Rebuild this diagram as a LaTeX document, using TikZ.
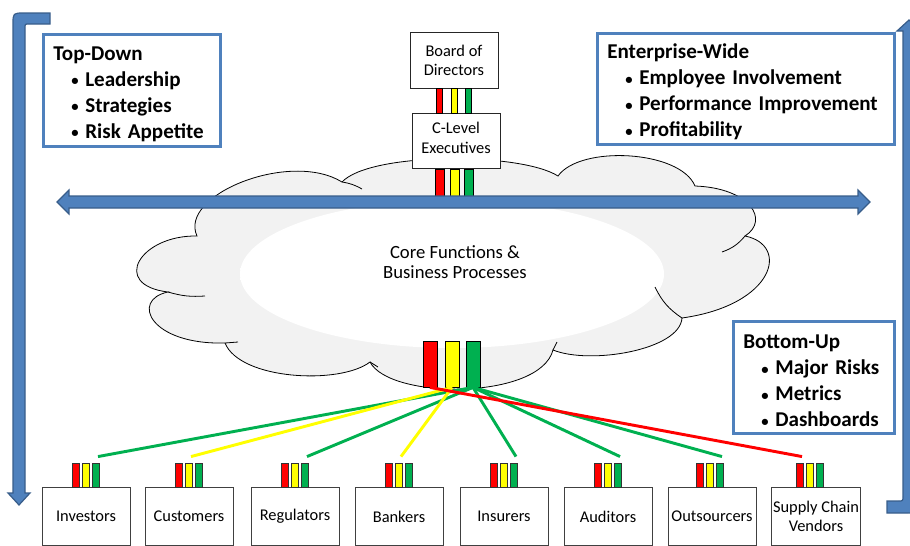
\documentclass[tikz,border=0pt]{standalone}
\usepackage{fontspec}
\setmainfont{Carlito}
\usetikzlibrary{calc}

\definecolor{boxblue}{HTML}{4F81BD}
\definecolor{arrowblue}{HTML}{4F81BD}
\definecolor{arrowedge}{HTML}{385D8A}
\definecolor{cloudgray}{HTML}{F2F2F2}
\definecolor{rred}{HTML}{FF0000}
\definecolor{ryel}{HTML}{FFFF00}
\definecolor{rgrn}{HTML}{00B050}

\pgfdeclareradialshading{cloudglow}{\pgfpointorigin}{color(0bp)=(white); color(38bp)=(white); color(50bp)=(cloudgray); color(100bp)=(cloudgray)}

\newcommand{\riskitem}[1]{\hspace*{13.5pt}\makebox[10.5pt][l]{\raisebox{0.6pt}{\fontsize{11}{11}\selectfont\textbullet}}#1}

\tikzset{
  infobox/.style={draw=boxblue, line width=2pt, fill=white, align=left, anchor=north west,
    inner xsep=7.5pt, inner ysep=0pt, font=\fontsize{15.8}{19.5}\selectfont\bfseries},
  stake/.style={draw=black!75, line width=0.6pt, fill=white, minimum width=66pt, minimum height=43.5pt,
    inner sep=1pt, align=center, font=\fontsize{12.3}{14.5}\selectfont},
  exec/.style={draw=black!85, line width=0.6pt, fill=white, minimum width=66pt, minimum height=41.5pt,
    inner sep=1pt, align=center, font=\fontsize{12.3}{14.5}\selectfont},
  tick/.style={draw=black!80, line width=0.4pt, minimum width=5pt, minimum height=18pt, inner sep=0pt, anchor=south},
  corebar/.style={draw=black, line width=0.6pt, minimum width=10.5pt, minimum height=34.5pt, inner sep=0pt},
  bigarrow/.style={fill=arrowblue, draw=arrowedge, line width=0.9pt, line join=miter},
  link/.style={line width=2.2pt},
  linkr/.style={link, draw=rred},
  linky/.style={link, draw=ryel},
  linkg/.style={link, draw=rgrn},
}

\begin{document}
\begin{tikzpicture}[x=0.75pt, y=-0.75pt]
\useasboundingbox (0,0) rectangle (910,546);

% cloud
\draw[fill=cloudgray, line width=0.6pt]
  (197,236) .. controls (178,195) and (290,150) .. (342,182)
  .. controls (370,152) and (520,152) .. (558,176)
  .. controls (580,145) and (680,150) .. (695,186)
  .. controls (750,188) and (770,220) .. (745,236)
  .. controls (790,245) and (775,305) .. (682,318)
  .. controls (680,350) and (590,365) .. (553,350)
  .. controls (540,400) and (390,400) .. (370,362)
  .. controls (340,385) and (240,380) .. (225,343)
  .. controls (150,345) and (130,300) .. (168,292)
  .. controls (110,285) and (140,235) .. cycle;
\shade[shading=cloudglow] (452,274) ellipse [x radius=212, y radius=74];
\draw[line width=0.6pt] (342,182) to[bend left=10] (362,189);
\draw[line width=0.6pt] (745,236) to[bend left=15] (722,252);
\draw[line width=0.6pt] (682,318) to[bend left=15] (655,287);
\draw[line width=0.6pt] (168,292) to[bend right=10] (205,296);
\draw[line width=0.6pt] (225,343) -- (238,342);
\draw[line width=0.6pt] (370,362) -- (378,367);
\draw[line width=0.6pt] (553,350) -- (557,342);
\node[align=center, font=\fontsize{14}{15.5}\selectfont] (core) at (455,262) {Core Functions \&\\Business Processes};

% board and executives
\node[exec] (board) at (454,60.5) {Board of\\Directors};
\node[exec] (cexec) at (456,141) {C-Level\\Executives\rule[-5pt]{0pt}{0pt}};
\foreach \c/\dx in {rred/-15, ryel/0, rgrn/14.5}{
  \draw[fill=\c, line width=0.5pt] ($(board.south)+(\dx-3,0)$) rectangle ($(cexec.north)+(\dx+1,0)$);
  \draw[fill=\c, line width=0.5pt] ($(cexec.south)+(\dx-6,0)$) rectangle ($(cexec.south)+(\dx+3,27)$);
}

% bars leaving the cloud
\node[corebar, fill=rred] (core-r) at (430,364) {};
\node[corebar, fill=ryel] (core-y) at (452,364) {};
\node[corebar, fill=rgrn] (core-g) at (473,364) {};

% stakeholders
\foreach \n/\x/\dx/\t/\c in {inv/86/0/Investors/g, cus/189/0/Customers/y, reg/295/0/Regulators/g,
    ban/399/0/Bankers/y, ins/504/0/Insurers/g, aud/608/0/Auditors/g, out/712/-2/Outsourcers/g,
    sup/816/-6/{Supply Chain\\Vendors}/r}{
  \node[stake] (\n) at (\x,516.5) {\t};
  \node[tick, fill=rred] (\n-r) at ($(\n.north)+(\dx-10,0)$) {};
  \node[tick, fill=ryel] (\n-y) at ($(\n.north)+(\dx,0)$) {};
  \node[tick, fill=rgrn] (\n-g) at ($(\n.north)+(\dx+10,0)$) {};
  \draw[link\c] (core-\c.south) -- ($(\n-\c.north)+(2,-6)$);
}

% arrows
\draw[bigarrow] (57,202) -- (69,190) -- (69,196) -- (858,196) -- (858,190) -- (870,202)
  -- (858,214) -- (858,208) -- (69,208) -- (69,214) -- cycle;
\draw[bigarrow] (50,13) -- (24,13) .. controls (13,13) .. (13,24) -- (13,493) -- (8,493)
  -- (19,505) -- (30,493) -- (25,493) -- (25,28) .. controls (25,24) .. (29,24) -- (50,24) -- cycle;
\draw[bigarrow] (887,501) -- (898,501) .. controls (903,501) .. (903,496) -- (903,31) -- (897,31)
  -- (909,20) -- (921,31) -- (915,31) -- (915,505) .. controls (915,513) .. (907,513) -- (887,513) -- cycle;

% text boxes
\node[infobox, text width=117.75pt, minimum width=132.75pt, minimum height=84pt] (topdown) at (42,33)
  {\rule{0pt}{16pt}Top-Down\\\riskitem{Leadership}\\\riskitem{Strategies}\\\riskitem{Risk Appetite}};
\node[infobox, text width=207.75pt, minimum width=222.75pt, minimum height=83.25pt] (entwide) at (596,32)
  {\rule{0pt}{16pt}Enterprise-Wide\\\riskitem{Employee Involvement}\\\riskitem{Performance Improvement}\\\riskitem{Profitability}};
\node[infobox, text width=105.75pt, minimum width=120.75pt, minimum height=84pt] (botup) at (732,320)
  {\rule{0pt}{16pt}Bottom-Up\\\riskitem{Major Risks}\\\riskitem{Metrics}\\\riskitem{Dashboards}};
\end{tikzpicture}
\end{document}
